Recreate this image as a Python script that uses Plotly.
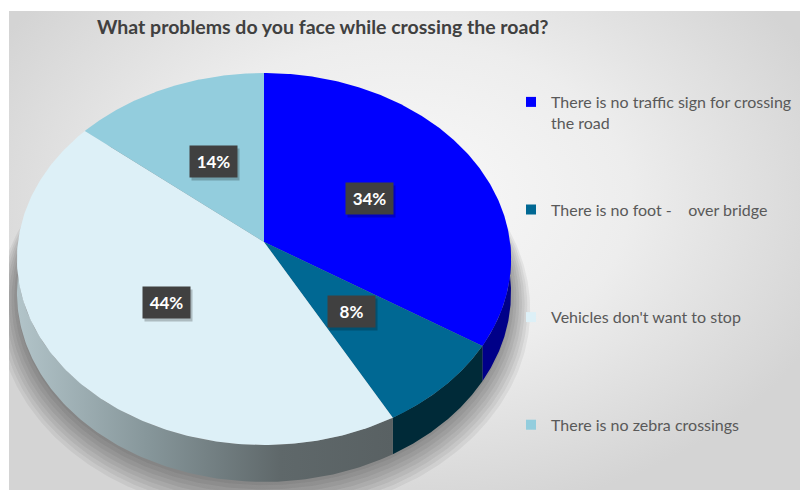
import numpy as np
import plotly.graph_objects as go

# ---- data ----
categories = [
    "There is no traffic sign for crossing<br>the road",
    "There is no foot -\u00a0\u00a0\u00a0\u00a0over bridge<br>\u00a0",
    "Vehicles don't want to stop<br>\u00a0",
    "There is no zebra crossings<br>\u00a0",
]
values = [34, 8, 44, 14]

# ---- styling ----
top_colors = ["#0000FF", "#006893", "#DDF0F7", "#93CDDD"]
side_colors = ["#000088", "#002A38", "#5E6769", "#5A8A96"]
FONT = "Lato"

# chart area in figure pixels
X0, X1, Y0, Y1 = 9, 800, 11, 490
W, H = 800, 491

# 3-D pie geometry (pixel space of the figure)
CX, CY = 264.0, 242.0      # centre of the top face
RX, RY = 246.0, 184.4      # radii of the top face
K = 0.0914                 # perspective strength
DEPTH = 33.6               # thickness of the pie


def project(r, alpha_deg, drop=0.0):
    """Project a point of the pie (radius r, angle clockwise from 12 o'clock)."""
    a = np.radians(alpha_deg)
    s, c = r * np.sin(a), r * np.cos(a)
    w = 1.0 + K * c
    return CX + RX * s / w, CY - RY * c / w + drop / w


fig = go.Figure()

# chart background with a soft radial gradient (clipped to the chart area)
fig.add_trace(go.Scatter(
    x=[-60, 860, 860, -60, -60], y=[-120, -120, 520, 520, -120],
    mode="lines", line=dict(width=0), fill="toself",
    fillgradient=dict(type="radial",
                      colorscale=[[0, "#F9F9F9"], [0.5, "#EDEDED"], [1, "#D4D4D4"]]),
    hoverinfo="skip", showlegend=False,
))

# soft shadow beneath the pie
full = np.linspace(0, 360, 361)
for i in range(8):
    sx, sy = project(1.0 + 0.011 * i, full, DEPTH + 3 + 1.6 * i)
    fig.add_trace(go.Scatter(
        x=sx, y=sy, mode="lines", line=dict(width=0), fill="toself",
        fillcolor="rgba(0,0,0,0.055)", hoverinfo="skip", showlegend=False,
    ))

total = float(sum(values))
bounds = np.concatenate([[0.0], np.cumsum(values) / total * 360.0])

# outer side walls (front half only)
for i, v in enumerate(values):
    a0, a1 = max(bounds[i], 90.0), min(bounds[i + 1], 270.0)
    if a1 <= a0:
        continue
    arc = np.linspace(a0, a1, 120)
    tx, ty = project(1.0, arc)
    bx, by = project(1.0, arc[::-1], DEPTH)
    px = np.concatenate([tx, bx, tx[:1]])
    py = np.concatenate([ty, by, ty[:1]])
    kw = dict(fillcolor=side_colors[i])
    if i == 2:
        kw = dict(fillgradient=dict(
            type="horizontal", start=float(px.min()), stop=float(px.max()),
            colorscale=[[0, "#B2C4C9"], [0.35, "#86969A"], [0.7, "#5F686A"], [1, "#596163"]]))
    fig.add_trace(go.Scatter(
        x=px, y=py, mode="lines", line=dict(width=0), fill="toself",
        hoverinfo="skip", showlegend=False, **kw,
    ))

# top faces of the slices
for i, v in enumerate(values):
    arc = np.linspace(bounds[i], bounds[i + 1], 200)
    tx, ty = project(1.0, arc)
    fig.add_trace(go.Scatter(
        x=np.concatenate([[CX], tx, [CX]]), y=np.concatenate([[CY], ty, [CY]]),
        mode="lines", line=dict(width=0), fill="toself", fillcolor=top_colors[i],
        hoverinfo="skip", showlegend=False,
    ))

# legend entries
for i, name in enumerate(categories):
    fig.add_trace(go.Scatter(
        x=[None], y=[None], mode="markers", name=name, legendgroup=f"g{i}",
        marker=dict(symbol="square", size=10, color=top_colors[i]),
    ))

# percentage labels in dark boxes with a drop shadow
for i, v in enumerate(values):
    mid = (bounds[i] + bounds[i + 1]) / 2.0
    lx, ly = project(0.5, mid)
    common = dict(x=float(lx), y=float(ly), xref="x", yref="y", showarrow=False,
                  borderpad=5, width=37, height=21,
                  font=dict(family=FONT, size=17))
    fig.add_annotation(**common, text=" ", xshift=2, yshift=-3,
                       bgcolor="rgba(0,0,0,0.22)")
    fig.add_annotation(**common, text=f"<b>{v}%</b>",
                       bgcolor="#404040", font_color="#FFFFFF")

fig.update_layout(
    width=W, height=H,
    margin=dict(l=0, r=0, t=0, b=0),
    paper_bgcolor="#FFFFFF", plot_bgcolor="rgba(0,0,0,0)",
    xaxis=dict(range=[X0, X1], domain=[X0 / W, X1 / W],
               visible=False, fixedrange=True),
    yaxis=dict(range=[Y1, Y0], domain=[1 - Y1 / H, 1 - Y0 / H],
               visible=False, fixedrange=True),
    title=dict(text="<b>What problems do you face while crossing the road?</b>",
               x=97 / W, xanchor="left", xref="paper",
               y=1 - 27 / H, yanchor="middle", yref="container",
               font=dict(family=FONT, size=19.5, color="#404040")),
    legend=dict(x=511 / W, xanchor="left", y=1 - 85 / H, yanchor="top",
                font=dict(family=FONT, size=16, color="#595959"),
                bgcolor="rgba(0,0,0,0)", tracegroupgap=63, valign="top",
                itemclick=False, itemdoubleclick=False),
    showlegend=True,
)

fig.write_html("out.html")
